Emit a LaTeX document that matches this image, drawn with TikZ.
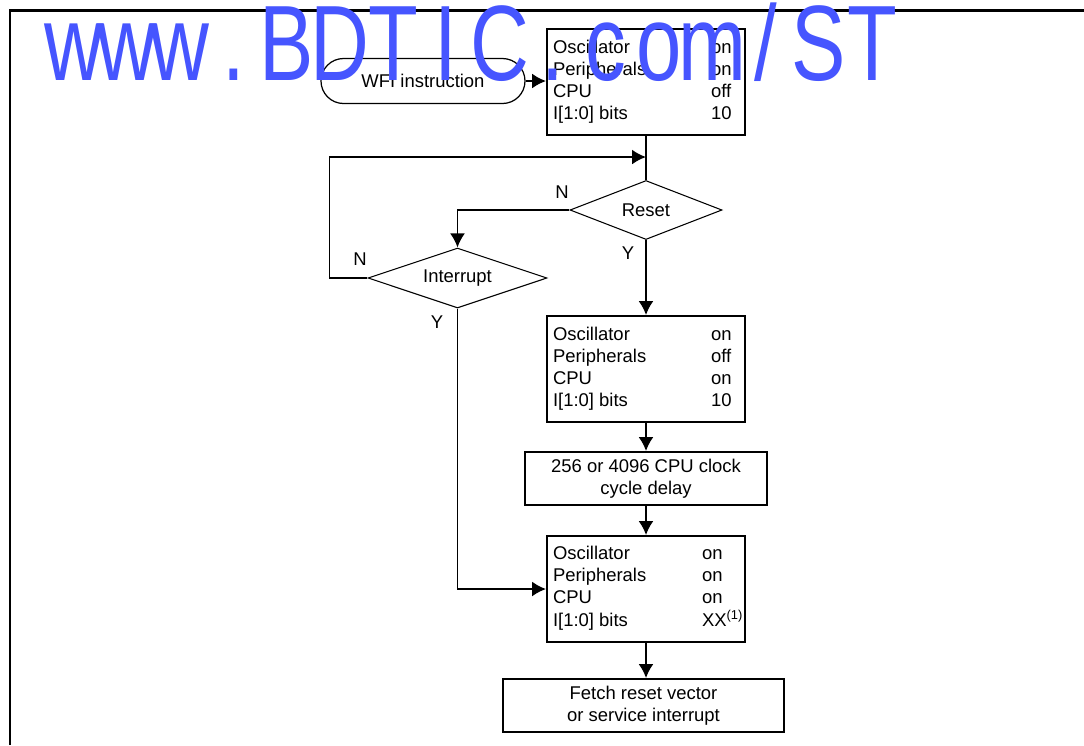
\documentclass[tikz,border=0pt]{standalone}
\usepackage{fontspec}
\setmainfont{Liberation Sans}
\usepackage{graphicx}
\usepackage{tikz}
\usepackage{xcolor}
\usetikzlibrary{arrows.meta,shapes.geometric}
\tikzset{>={Latex[length=2.8mm,width=3mm]}}
\definecolor{wmblue}{RGB}{70,85,255}

% four-line power state table
\newcommand{\pwrstate}[5][31.6mm]{%
  \begin{tabular}{@{}p{#1}@{}p{\dimexpr37.2mm-#1\relax}@{}}
    Oscillator & #2\\
    Peripherals & #3\\
    CPU & #4\\
    I[1:0] bits & #5
  \end{tabular}}

% fixed pitch letters for the watermark
\newlength{\wmpitch}
\setlength{\wmpitch}{14.0mm}
\def\wmchars#1{\ifx#1\relax\else\makebox[\wmpitch]{#1}\expandafter\wmchars\fi}

\tikzset{
  modebox/.style={draw, line width=1.1pt, minimum width=39.6mm, minimum height=21.2mm, inner sep=0pt},
  taskbox/.style={draw, line width=1.1pt, minimum height=10.6mm, align=center, inner sep=0pt},
  decision/.style={diamond, draw, line width=0.6pt, inner sep=0pt},
  terminal/.style={draw, line width=0.7pt, rounded corners=4.5mm, minimum width=40.8mm, minimum height=9mm},
  flow/.style={->, line width=1.1pt},
  lbl/.style={inner sep=0pt},
}

\begin{document}
\begin{tikzpicture}[x=0.2mm, y=-0.2mm, font=\fontsize{10.5}{12.5}\selectfont]
  \useasboundingbox (0,0) rectangle (1084,745);
  \draw[line width=1.7pt] (10,745) -- (10,10) -- (1084,10);

  \node[terminal] (wfi) at (423,81) {WFI instruction};
  \node[modebox] (halt) at (646,82) {\pwrstate{on}{on}{off}{10}};
  \node[decision, aspect=2.6, minimum width=30.4mm, minimum height=11.8mm] (reset) at (646,210) {Reset};
  \node[decision, aspect=3, minimum width=35.8mm, minimum height=12mm] (intr) at (457.5,278) {Interrupt};
  \node[modebox] (wake) at (646,369) {\pwrstate{on}{off}{on}{10}};
  \node[taskbox, minimum width=48.4mm] (delay) at (646,478.5) {256 or 4096 CPU clock\\cycle delay};
  \node[modebox] (run) at (646,589) {\pwrstate[29.8mm]{on}{on}{on}{XX\textsuperscript{(1)}}};
  \node[taskbox, minimum width=56.2mm] (fetch) at (643.5,705.5) {Fetch reset vector\\or service interrupt};

  \node[lbl] (resetn) at (562,192) {N};
  \node[lbl] (resety) at (628,253) {Y};
  \node[lbl] (intrn) at (360,259) {N};
  \node[lbl] (intry) at (437,322) {Y};

  \coordinate (join) at (646,157);
  \draw[flow] (wfi.east) -- (wfi.east -| halt.west);
  \draw[line width=1.1pt] (halt.south) -- (reset.north);
  \draw[flow] (intr.west) -- ++(-38,0) |- (join);
  \draw[flow] (reset.west) -| (intr.north);
  \draw[flow] (reset.south) -- (wake.north);
  \draw[flow] (wake.south) -- (delay.north);
  \draw[flow] (delay.south) -- (run.north);
  \draw[flow] (intr.south) |- (run.west);
  \draw[flow] (run.south) -- (run.south |- fetch.north);

  \node[anchor=base west, inner sep=0pt, text=wmblue, font=\fontsize{61}{61}\selectfont] (wmark) at (47,80)
    {\scalebox{0.76}[1]{\wmchars www.BDTIC.com/ST\relax}};
\end{tikzpicture}
\end{document}
